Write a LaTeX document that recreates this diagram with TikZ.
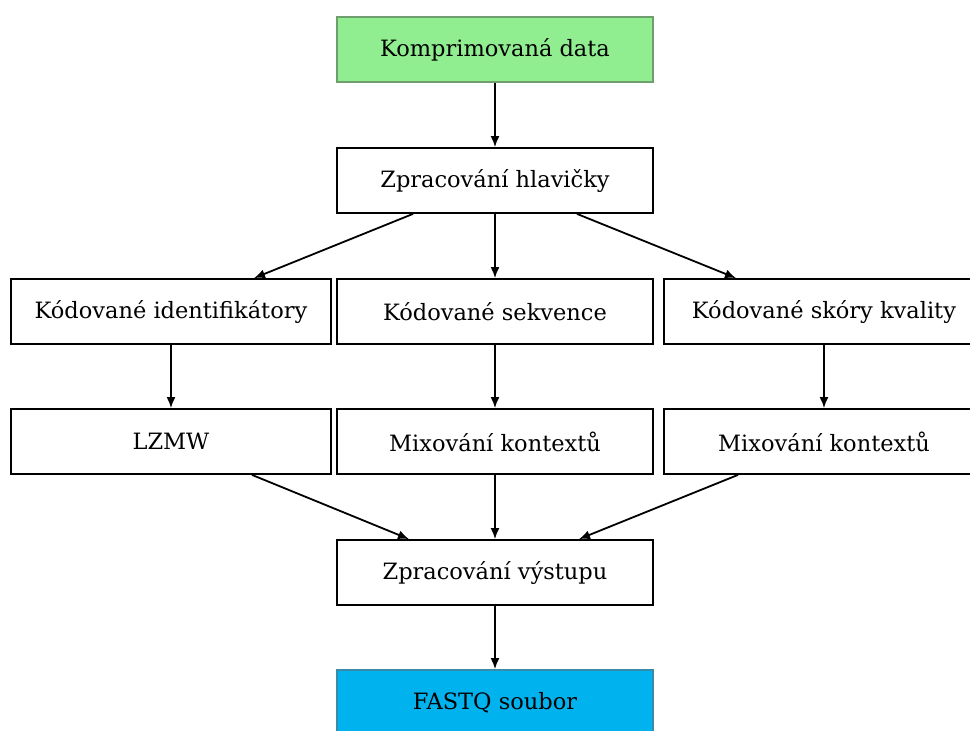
\documentclass[tikz,border=0pt]{standalone}
\usepackage{fontspec}
\setmainfont{DejaVu Serif}
\usetikzlibrary{arrows.meta}
\definecolor{startfill}{HTML}{90EE90}
\definecolor{startline}{HTML}{6E9E6E}
\definecolor{endfill}{HTML}{00B2EE}
\definecolor{endline}{HTML}{3A8BAA}
\begin{document}
\begin{tikzpicture}[x=1pt,y=-1pt,
  stagebox/.style={draw=black, line width=1.8pt, fill=white, minimum width=316pt,
    minimum height=65pt, inner sep=0pt, font=\fontsize{22.5}{25}\selectfont},
  widebox/.style={stagebox, minimum width=320pt},
  flow/.style={-{Latex[length=11pt,width=9pt]}, line width=1.8pt}]
\useasboundingbox (0,0) rectangle (970,731);
\fill[white] (0,0) rectangle (970,731);

\node[stagebox, fill=startfill, draw=startline] (data) at (495,49.5) {Komprimovaná data};
\node[stagebox] (head) at (495,180.5) {Zpracování hlavičky};

\node[widebox] (ids) at (171,311.5) {Kódované identifikátory};
\node[stagebox] (seq) at (495,311.5) {Kódované sekvence};
\node[widebox] (qual) at (824,311.5) {Kódované skóry kvality};

\node[widebox] (lzmw) at (171,441.5) {LZMW};
\node[stagebox] (mixseq) at (495,441.5) {Mixování kontextů};
\node[widebox] (mixqual) at (824,441.5) {Mixování kontextů};

\node[stagebox] (out) at (495,572.5) {Zpracování výstupu};
\node[stagebox, fill=endfill, draw=endline] (fastq) at (495,702.5) {FASTQ soubor};

\draw[flow] (data) -- (head);
\draw[flow] ([xshift=-82pt]head.south) -- ([xshift=83pt]ids.north);
\draw[flow] (head) -- (seq);
\draw[flow] ([xshift=82pt]head.south) -- ([xshift=-88pt]qual.north);

\draw[flow] (ids) -- (lzmw);
\draw[flow] (seq) -- (mixseq);
\draw[flow] (qual) -- (mixqual);

\draw[flow] ([xshift=81pt]lzmw.south) -- ([xshift=-86pt]out.north);
\draw[flow] (mixseq) -- (out);
\draw[flow] ([xshift=-86pt]mixqual.south) -- ([xshift=84pt]out.north);

\draw[flow] (out) -- (fastq);
\end{tikzpicture}
\end{document}
